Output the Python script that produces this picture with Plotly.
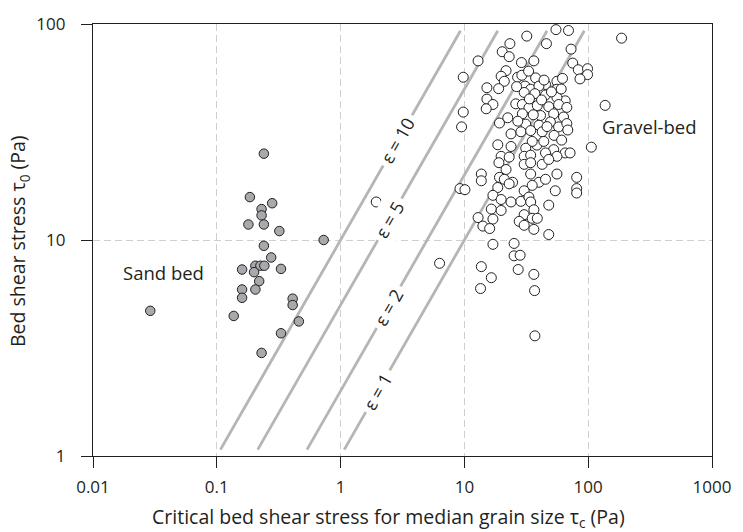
import numpy as np
import plotly.graph_objects as go

# ---------------- data ----------------
sand_tau_c = [0.24, 0.185, 0.28, 0.23, 0.23, 0.18, 0.24, 0.32, 0.73, 0.24, 0.275,
              0.16, 0.205, 0.225, 0.242, 0.20, 0.33, 0.22, 0.16, 0.205, 0.16,
              0.41, 0.41, 0.029, 0.137, 0.46, 0.33, 0.23]
sand_tau_0 = [25.1, 15.8, 14.8, 13.9, 13.0, 11.8, 11.8, 11.0, 10.0, 9.4, 8.3,
              7.3, 7.6, 7.6, 7.6, 7.1, 7.35, 6.45, 5.9, 5.9, 5.4,
              5.35, 5.0, 4.7, 4.45, 4.2, 3.7, 3.0]

gravel_tau_c = [54.9, 69.3, 31.9, 23.3, 46.0, 72.7, 20.2, 23.0, 12.9, 28.9, 36.4,
                75.0, 83.2, 98.8, 98.8, 85.8, 9.79, 21.7, 19.8, 21.0, 18.9, 15.2,
                26.9, 29.1, 37.6, 45.2, 55.9, 55.9, 30.9, 34.3, 40.0, 30.4, 37.1,
                45.2, 65.2, 55.9, 15.2, 17.0, 15.0, 26.0, 29.4, 33.2, 38.8, 48.0,
                57.7, 67.2, 52.6, 63.2, 9.79, 9.49, 29.4, 41.2, 22.4, 19.2, 31.3,
                40.0, 49.5, 57.7, 67.2, 68.4, 23.8, 28.6, 34.3, 42.5,
                26.4, 33.5, 42.0, 50.5, 60.5, 36.0, 46.5, 53.0, 61.0, 38.5, 27.0,
                44.0, 62.0, 33.0,
                35.3, 43.8, 18.6, 23.8, 31.3, 52.6, 65.2, 71.4, 106.0, 19.8, 23.0,
                30.4, 34.3, 45.2, 55.9, 19.0, 21.7, 30.4, 34.3, 42.5, 48.0, 13.7,
                13.7, 19.2, 21.0, 24.5, 34.3, 40.0, 45.2, 55.9, 80.7, 9.21, 10.1,
                18.6, 23.0, 35.3, 30.4, 54.2, 80.7, 80.7, 17.0, 19.8, 23.8, 28.6,
                33.2, 34.3, 48.0, 16.5, 19.8, 36.4, 12.9, 17.0, 30.4, 35.3, 38.8,
                27.7, 30.4, 14.1, 16.0, 36.4, 48.0, 17.0, 25.2,
                25.2, 28.2, 13.7, 27.2, 36.4, 16.5, 13.5, 36.9, 37.1,
                1.94, 6.3, 186.0, 137.0]
gravel_tau_0 = [94.2, 93.3, 87.9, 81.1, 81.1, 76.5, 74.4, 70.6, 67.5, 66.3, 67.5,
                65.9, 61.4, 62.1, 58.3, 55.7, 56.7, 60.8, 57.3, 54.3, 50.2, 50.7,
                56.7, 57.9, 56.3, 52.5, 54.3, 49.9, 51.6, 49.9, 51.6, 48.2, 47.6,
                46.9, 44.1, 45.7, 44.9, 42.4, 40.5, 42.7, 42.4, 40.9, 41.9, 41.4,
                42.4, 41.1, 38.4, 37.1, 39.1, 33.4, 38.4, 37.7, 36.8, 34.8, 34.4,
                34.0, 35.2, 33.4, 34.6, 32.3, 31.0, 31.7, 32.1, 31.7,
                51.3, 45.0, 44.5, 48.5, 50.0, 38.0, 33.5, 30.5, 29.0, 27.5, 35.5,
                55.0, 56.0, 60.5,
                28.6, 28.6, 27.6, 27.1, 26.6, 26.2, 25.3, 25.3, 26.9, 24.4, 24.2,
                24.4, 24.7, 25.3, 24.4, 22.8, 21.2, 22.4, 22.8, 22.4, 23.6, 20.2,
                18.8, 19.5, 19.1, 18.5, 20.2, 18.5, 19.1, 20.2, 19.5, 17.3, 17.1,
                17.5, 18.2, 17.9, 16.9, 16.9, 17.3, 16.5, 16.1, 15.4, 15.0, 15.1,
                15.8, 15.0, 14.5, 13.9, 13.7, 13.8, 12.7, 12.5, 13.1, 12.6, 12.6,
                12.2, 11.7, 11.6, 11.3, 11.2, 10.6, 9.55, 9.64,
                8.45, 8.5, 7.53, 7.30, 6.93, 6.69, 5.96, 5.83, 3.60,
                15.0, 7.8, 86.0, 42.0]

epsilons = [1, 2, 5, 10]
eps_labels = ["ε = 1", "ε = 2", "ε = 5", "ε = 10"]
eps_label_tau_c = [2.0, 2.45, 2.5, 2.9]
line_tau_0_range = [1.07, 93.0]

x_tickvals = [0.01, 0.1, 1, 10, 100, 1000]
x_ticktext = ["0.01", "0.1", "1", "10", "100", "1000"]
y_tickvals = [1, 10, 100]
y_ticktext = ["1", "10", "100"]

x_title = "Critical bed shear stress for median grain size τ<sub>c</sub> (Pa)"
y_title = "Bed shear stress τ<sub>0</sub> (Pa)"

# ---------------- figure ----------------
FONT = "Open Sans"
TXT = "#231f20"

fig = go.Figure()

for eps in epsilons:
    t0 = np.array(line_tau_0_range)
    fig.add_trace(go.Scatter(x=t0 / eps, y=t0, mode="lines",
                             line=dict(color="#b5b5b5", width=2.8),
                             hoverinfo="skip", showlegend=False))

fig.add_trace(go.Scatter(x=sand_tau_c, y=sand_tau_0, mode="markers",
                         marker=dict(size=9.5, color="#a7a9ac",
                                     line=dict(color="#231f20", width=1)),
                         showlegend=False))
fig.add_trace(go.Scatter(x=gravel_tau_c, y=gravel_tau_0, mode="markers",
                         marker=dict(size=10, color="rgba(255,255,255,1)",
                                     line=dict(color="#231f20", width=1)),
                         showlegend=False))

angle = -np.degrees(np.arctan2(2 * 220.5, 2 * 125.5))
for eps, lab, tc in zip(epsilons, eps_labels, eps_label_tau_c):
    fig.add_annotation(x=np.log10(tc), y=np.log10(tc * eps), text=lab,
                       showarrow=False, textangle=angle, bgcolor="white",
                       borderpad=4, font=dict(family=FONT, size=18, color=TXT))

fig.add_annotation(x=np.log10(0.037), y=np.log10(7.05), text="Sand bed",
                   showarrow=False, font=dict(family=FONT, size=18.5, color=TXT))
fig.add_annotation(x=np.log10(310), y=np.log10(33.4), text="Gravel-bed",
                   showarrow=False, font=dict(family=FONT, size=18.5, color=TXT))

# axis titles
fig.add_annotation(xref="paper", yref="paper", x=0.477, y=-0.143,
                   xanchor="center", yanchor="middle", showarrow=False,
                   text=x_title, font=dict(family=FONT, size=19.5, color=TXT))
fig.add_annotation(xref="paper", yref="paper", x=-0.12, y=0.497,
                   xanchor="center", yanchor="middle", showarrow=False,
                   textangle=-90, text=y_title,
                   font=dict(family=FONT, size=19.5, color=TXT))

axis_common = dict(
    type="log", showline=True, linecolor=TXT, linewidth=1.3, mirror=True,
    ticks="outside", ticklen=11, tickwidth=1.3, tickcolor=TXT,
    showgrid=True, gridcolor="#cfcfcf", gridwidth=1, griddash="7px,4px",
    zeroline=False, tickfont=dict(family=FONT, size=17, color=TXT),
)

fig.update_xaxes(**axis_common, range=[-2, 3], tickvals=x_tickvals, ticktext=x_ticktext,
                 ticklabelstandoff=4)
fig.update_yaxes(**axis_common, range=[0, 2], tickvals=y_tickvals, ticktext=y_ticktext,
                 ticklabelstandoff=12)

fig.update_layout(width=743, height=532, margin=dict(l=93, r=24, t=15, b=76),
                  plot_bgcolor="white", paper_bgcolor="white")

fig.write_html("out.html")
